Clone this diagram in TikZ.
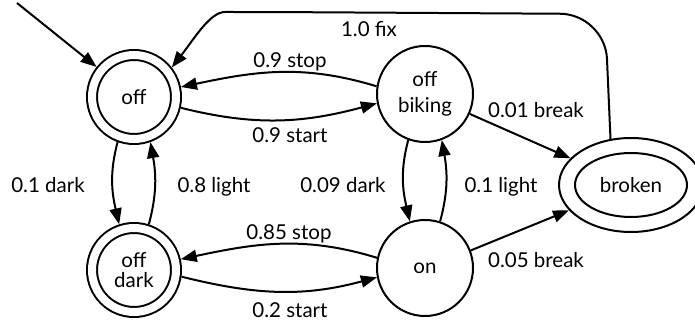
\documentclass[tikz,border=0pt]{standalone}
\usepackage{fontspec}
\setmainfont{Lato}
\usetikzlibrary{arrows.meta,shapes.geometric}
\begin{document}
\begin{tikzpicture}[x=1pt,y=1pt,
  every node/.style={font=\fontsize{20.5}{24}\selectfont},
  lw/.style={line width=2pt},
  edge/.style={lw,-{Triangle[length=16pt,width=12pt]}},
  state/.style={circle,draw,lw,minimum size=96pt,inner sep=0pt,align=center},
  accepting/.style={circle,draw,lw,double,double distance=8pt,
    minimum size=84pt,inner sep=0pt,outer sep=6pt,align=center},
  lbl/.style={anchor=base,inner sep=0pt}]
\clip (0,0) rectangle (695,321);

% states
\node[accepting] (off)  at (134,224) {off};
\node[accepting] (dark) at (134,51)  {off\\[-4pt]dark};
\node[state]     (bik)  at (425,227) {off\\[2pt]biking};
\node[state]     (on)   at (425,53)  {on};
\node[ellipse,draw,lw,minimum width=144pt,minimum height=94pt,inner sep=0pt]
  (brk) at (631,136) {broken};
\draw[lw] (brk.center) ellipse[x radius=56, y radius=32];

% start marker
\coordinate (init) at (17,318);
\draw[edge] (init) -- (off);

% transitions
\draw[edge,rounded corners=45pt] (brk.114) -- (605,307) -- (270,309)
  .. controls (210,309) and (194,282) .. (off.38);
\draw[edge] (bik.171) to[out=163,in=12] (off.12);
\draw[edge] (off.-13) to[out=-14,in=195] (bik.191);
\draw[edge] (bik.-24) -- (brk);
\draw[edge] (on.21) -- (brk);
\draw[edge] (off.250) to[out=255,in=103] (dark.108);
\draw[edge] (dark.72) to[out=75,in=-80] (off.-70);
\draw[edge] (bik.250) to[out=255,in=103] (on.108);
\draw[edge] (on.72) to[out=75,in=-80] (bik.-70);
\draw[edge] (on.168) to[out=163,in=12] (dark.13);
\draw[edge] (dark.-8) to[out=-14,in=195] (on.191);

% transition labels
\node[lbl] (lfix)   at (369,284) {1.0 fix};
\node[lbl] (lstop)  at (290,253) {0.9 stop};
\node[lbl] (lstart) at (290,178) {0.9 start};
\node[lbl] (lbrk1)  at (536,203) {0.01 break};
\node[lbl] (ldark1) at (48,128)  {0.1 dark};
\node[lbl] (llgt1)  at (214,128) {0.8 light};
\node[lbl] (ldark2) at (343,128) {0.09 dark};
\node[lbl] (llgt2)  at (501,128) {0.1 light};
\node[lbl] (lstop2) at (289,81)  {0.85 stop};
\node[lbl] (lstrt2) at (290,4)   {0.2 start};
\node[lbl] (lbrk2)  at (536,53)  {0.05 break};
\end{tikzpicture}
\end{document}
